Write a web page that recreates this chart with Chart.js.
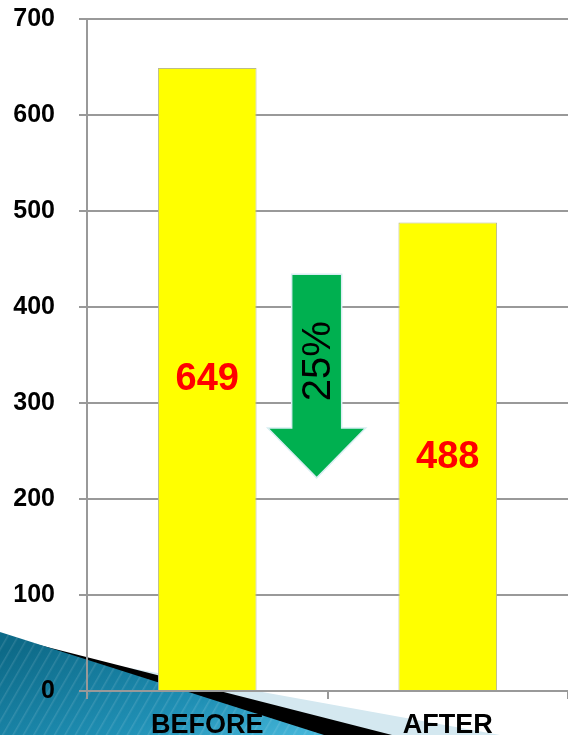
<!DOCTYPE html>
<html>
<head>
<meta charset="utf-8">
<script src="https://cdn.jsdelivr.net/npm/chart.js@4/dist/chart.umd.min.js"></script>
<style>
  html, body { margin: 0; padding: 0; background: #fff; }
  #wrap { position: relative; width: 568px; height: 735px; overflow: hidden; }
  #deco { position: absolute; left: 0; top: 0; }
  #chartBox { position: absolute; left: 0; top: 0; width: 568px; height: 735px; }
</style>
</head>
<body>
<div id="wrap">
  <!-- slide decoration in the bottom left corner -->
  <svg id="deco" width="568" height="735" viewBox="0 0 568 735">
    <defs>
      <linearGradient id="blueGrad" x1="0" y1="0.2" x2="1" y2="1">
        <stop offset="0" stop-color="#0d6a88"/>
        <stop offset="0.6" stop-color="#1f8fb4"/>
        <stop offset="1" stop-color="#48b9dc"/>
      </linearGradient>
      <pattern id="hatch" width="9" height="9" patternUnits="userSpaceOnUse" patternTransform="rotate(30)">
        <line x1="0" y1="0" x2="0" y2="9" stroke="#ffffff" stroke-opacity="0.12" stroke-width="3"/>
      </pattern>
    </defs>
    <polygon points="80,659 500,735 0,735" fill="#d4e8f0"/>
    <polygon points="0,635 392,735 0,735" fill="#000"/>
    <polygon points="0,632 324,735 0,735" fill="url(#blueGrad)"/>
    <polygon points="0,632 324,735 0,735" fill="url(#hatch)"/>
  </svg>
  <div id="chartBox"><canvas id="myChart"></canvas></div>
</div>
<script>
// chart data
const categories = ['BEFORE', 'AFTER'];
const values = [649, 488];
const yMax = 700;
const yStep = 100;

// arrow annotation between the bars (in data units)
const changeText = '25%';
const arrowIndex = 0.455;   // position along the category axis
const arrowTop = 434;
const arrowHeadBase = 274;
const arrowTip = 222;

const fontFamily = "'Liberation Sans', Arial, sans-serif";

// value labels in the middle of each bar
const barLabels = {
    id: 'barLabels',
    afterDatasetsDraw(chart) {
        const ctx = chart.ctx;
        const meta = chart.getDatasetMeta(0);
        ctx.save();
        ctx.fillStyle = '#ff0000';
        ctx.font = 'bold 38px ' + fontFamily;
        ctx.textAlign = 'center';
        ctx.textBaseline = 'middle';
        meta.data.forEach((bar, i) => {
            ctx.fillText(String(values[i]), bar.x, (bar.y + bar.base) / 2 + 1);
        });
        ctx.restore();
    }
};

// green down arrow with the change in percent
const downArrow = {
    id: 'downArrow',
    afterDatasetsDraw(chart) {
        const ctx = chart.ctx;
        const xs = chart.scales.x;
        const ys = chart.scales.y;
        const cx = xs.getPixelForValue(arrowIndex);
        const top = ys.getPixelForValue(arrowTop);
        const base = ys.getPixelForValue(arrowHeadBase);
        const tip = ys.getPixelForValue(arrowTip);
        const shaft = 25, head = 49;

        ctx.save();
        ctx.beginPath();
        ctx.moveTo(cx - shaft, top);
        ctx.lineTo(cx + shaft, top);
        ctx.lineTo(cx + shaft, base);
        ctx.lineTo(cx + head, base);
        ctx.lineTo(cx, tip);
        ctx.lineTo(cx - head, base);
        ctx.lineTo(cx - shaft, base);
        ctx.closePath();
        ctx.fillStyle = '#00b050';
        ctx.fill();
        ctx.lineWidth = 1.5;
        ctx.strokeStyle = '#d8eef2';
        ctx.stroke();

        // rotated text
        ctx.translate(cx + 1, (top + base) / 2 + 10);
        ctx.rotate(-Math.PI / 2);
        ctx.fillStyle = '#000';
        ctx.font = '40px ' + fontFamily;
        ctx.textAlign = 'center';
        ctx.textBaseline = 'middle';
        ctx.fillText(changeText, 0, 1);
        ctx.restore();
    }
};

const ctx = document.getElementById('myChart').getContext('2d');

const myChart = new Chart(ctx, {
    type: 'bar',
    data: {
        labels: categories,
        datasets: [{
            data: values,
            backgroundColor: '#ffff00',
            borderColor: '#bcbc8c',
            borderWidth: 1,
            categoryPercentage: 1,
            barPercentage: 0.41
        }]
    },
    options: {
        responsive: true,
        maintainAspectRatio: false,
        animation: false,
        layout: {
            padding: { left: 0, top: 19, right: 0, bottom: 0 }
        },
        plugins: {
            legend: { display: false },
            tooltip: { enabled: false }
        },
        scales: {
            x: {
                grid: {
                    drawOnChartArea: false,
                    tickLength: 8,
                    color: '#999999',
                    lineWidth: 2
                },
                border: { color: '#999999', width: 2 },
                ticks: {
                    color: '#000',
                    padding: 10,
                    font: { family: fontFamily, size: 27, weight: 'bold' }
                },
                afterFit(scale) {
                    scale.height = 44;
                    scale.paddingLeft = 0;
                    scale.paddingRight = 0;
                }
            },
            y: {
                min: 0,
                max: yMax,
                ticks: {
                    stepSize: yStep,
                    color: '#000',
                    padding: 24,
                    font: { family: fontFamily, size: 25, weight: 'bold' }
                },
                grid: {
                    color: '#999999',
                    lineWidth: 2,
                    tickLength: 8
                },
                border: { color: '#999999', width: 2 },
                afterFit(scale) {
                    scale.width = 87;
                    scale.paddingTop = 0;
                    scale.paddingBottom = 0;
                }
            }
        }
    },
    plugins: [barLabels, downArrow]
});
</script>
</body>
</html>
